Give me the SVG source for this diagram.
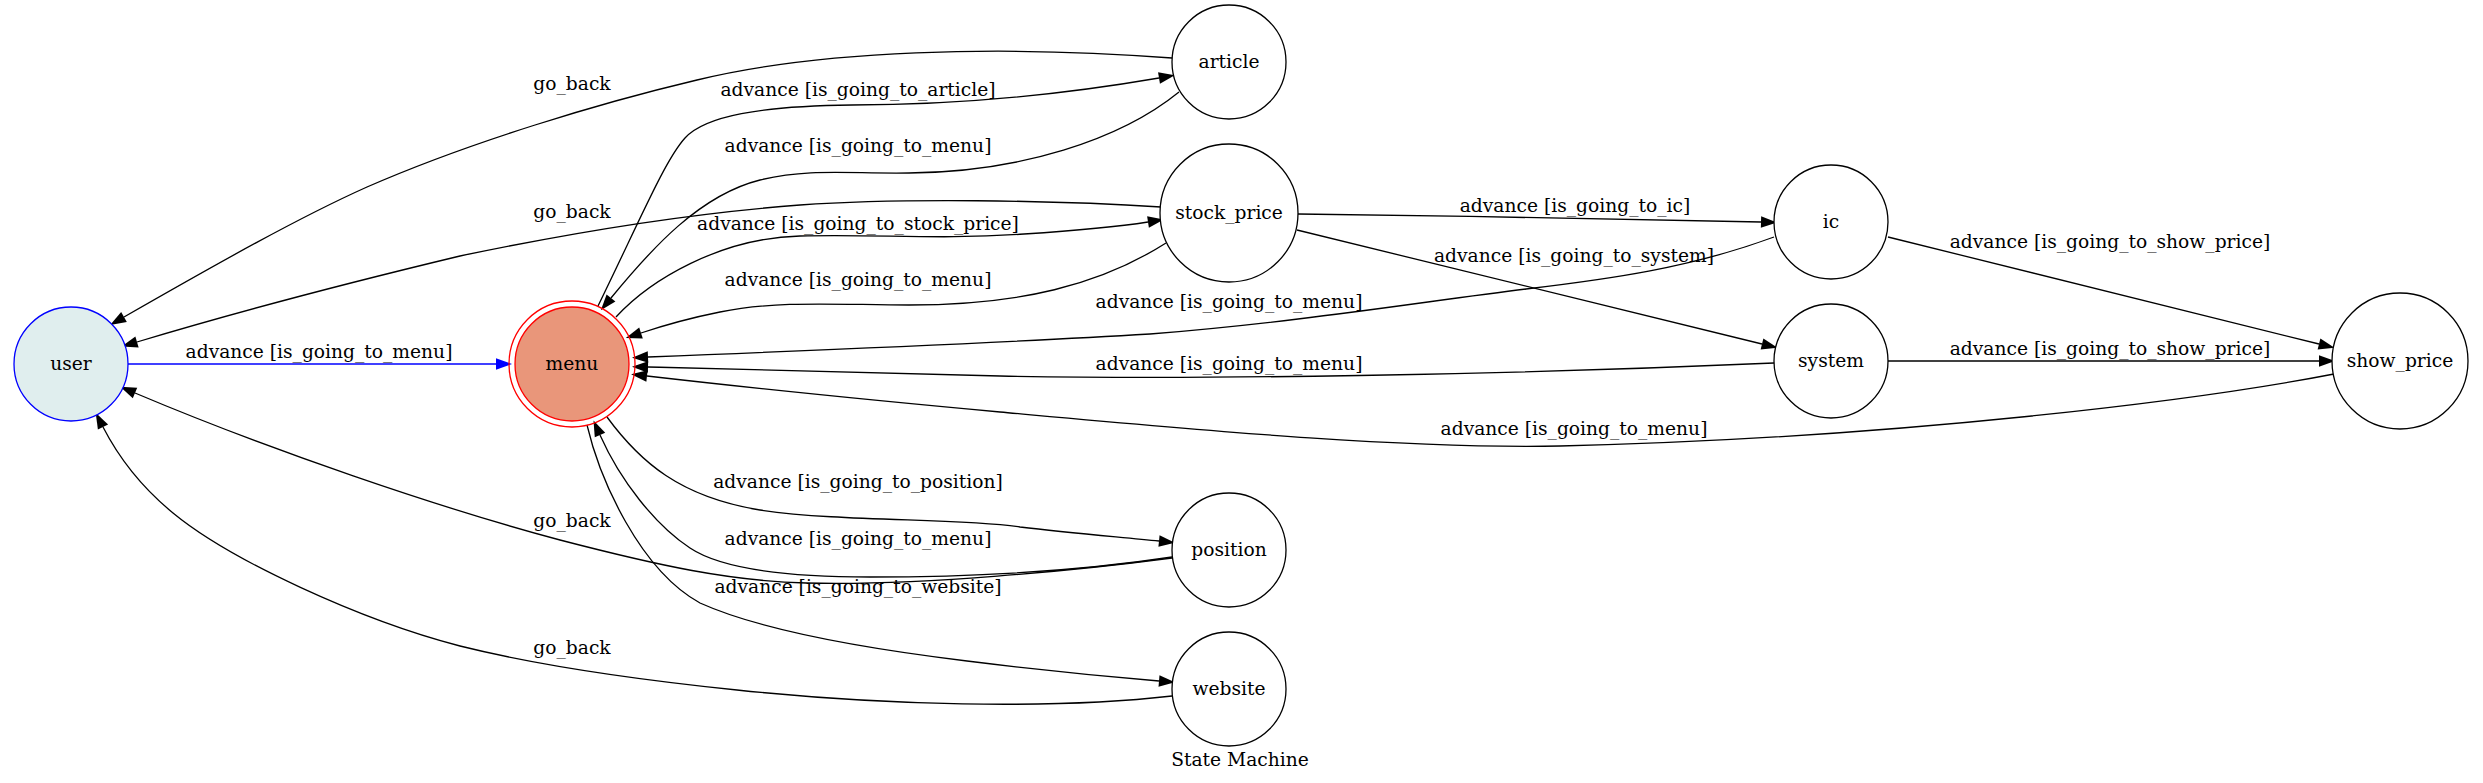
<svg xmlns="http://www.w3.org/2000/svg" width="2483" height="783" viewBox="0 0 2483 783">
<style>
text{font-family:"DejaVu Serif","Liberation Serif",serif;font-size:18.67px;fill:#000;text-anchor:middle}
.e{fill:none;stroke:#000;stroke-width:1.3;marker-end:url(#ah)}
.eb{fill:none;stroke:#0000ff;stroke-width:1.3;marker-end:url(#ahb)}
.n{fill:#fff;stroke:#000;stroke-width:1.3}
</style>
<defs>
<marker id="ah" markerUnits="userSpaceOnUse" markerWidth="16" markerHeight="12" viewBox="0 0 14 10" refX="0" refY="5" orient="auto" overflow="visible"><path d="M0,0 L14,5 L0,10 z" fill="#000"/></marker>
<marker id="ahb" markerUnits="userSpaceOnUse" markerWidth="16" markerHeight="12" viewBox="0 0 14 10" refX="0" refY="5" orient="auto" overflow="visible"><path d="M0,0 L14,5 L0,10 z" fill="#0000ff"/></marker>
</defs>
<rect width="2483" height="783" fill="#fff"/>
<g id="connectors">
<path class="eb" d="M128,364 L496,364"/>
<text x="319" y="358">advance [is_going_to_menu]</text>
<path class="e" d="M1172,58 C1000,45 820,50 697,80 C600,103 470,142 367,187 C300,217 220,262 124,317"/>
<text x="572" y="90">go_back</text>
<path class="e" d="M598,306 C640,220 665,160 685,138 C705,116 760,106 852,105 C960,105 1060,95 1159,78"/>
<text x="858" y="96">advance [is_going_to_article]</text>
<path class="e" d="M1179,92 C1120,140 1020,172 909,173 C850,174 810,168 760,180 C700,195 652,248 611,298"/>
<text x="858" y="152">advance [is_going_to_menu]</text>
<path class="e" d="M1161,207 C1050,200 900,198 800,205 C680,214 560,235 460,256 C360,280 250,308 137,342"/>
<text x="572" y="218">go_back</text>
<path class="e" d="M616,317 C650,280 720,238 800,236 C880,234 940,240 1024,234 C1070,231 1110,228 1148,222"/>
<text x="858" y="230">advance [is_going_to_stock_price]</text>
<path class="e" d="M1166,243 C1100,285 1020,305 909,305 C840,305 780,300 720,312 C690,318 665,325 641,333"/>
<text x="858" y="286">advance [is_going_to_menu]</text>
<path class="e" d="M1298,214 C1450,216 1650,219 1761,222"/>
<text x="1575" y="212">advance [is_going_to_ic]</text>
<path class="e" d="M1297,230 L1762,344"/>
<text x="1574" y="262">advance [is_going_to_system]</text>
<path class="e" d="M1774,237 C1690,268 1610,279 1526,289 C1420,302 1300,322 1150,334 C1000,343 800,351 648,357"/>
<text x="1229" y="308">advance [is_going_to_menu]</text>
<path class="e" d="M1774,363 C1500,375 1200,380 1000,376 C850,373 750,369 648,367"/>
<text x="1229" y="370">advance [is_going_to_menu]</text>
<path class="e" d="M2334,374 C2200,400 1900,438 1560,446 C1400,449 1200,430 1000,412 C880,401 760,389 647,376"/>
<text x="1574" y="435">advance [is_going_to_menu]</text>
<path class="e" d="M1888,237 L2319,344"/>
<text x="2110" y="248">advance [is_going_to_show_price]</text>
<path class="e" d="M1888,361 L2319,361"/>
<text x="2110" y="355">advance [is_going_to_show_price]</text>
<path class="e" d="M607,417 C640,462 680,497 760,510 C840,522 960,518 1020,527 C1070,533 1120,537 1159,541"/>
<text x="858" y="488">advance [is_going_to_position]</text>
<path class="e" d="M1172,557 C1100,568 1000,577 870,577 C780,577 720,568 690,548 C655,525 620,480 600,435"/>
<text x="858" y="545">advance [is_going_to_menu]</text>
<path class="e" d="M1172,558 C1080,570 920,586 806,583 C730,581 660,566 560,540 C440,508 270,450 135,393"/>
<text x="572" y="527">go_back</text>
<path class="e" d="M587,425 C600,480 640,570 700,603 C760,630 860,648 967,661 C1040,670 1100,676 1159,681"/>
<text x="858" y="593">advance [is_going_to_website]</text>
<path class="e" d="M1172,696 C1050,710 880,705 737,690 C640,680 540,666 460,646 C360,620 230,560 173,513 C145,490 120,460 103,427"/>
<text x="572" y="654">go_back</text>
</g>
<g id="user"><circle cx="71" cy="364" r="57" fill="#e0eeee" stroke="#0000ff" stroke-width="1.3"/><text x="71" y="370">user</text></g>
<g id="menu"><circle cx="572" cy="364" r="63" fill="none" stroke="#ff0000" stroke-width="1.3"/><circle cx="572" cy="364" r="57" fill="#e9967a" stroke="#ff0000" stroke-width="1.3"/><text x="572" y="370">menu</text></g>
<g id="article"><circle class="n" cx="1229" cy="62" r="57"/><text x="1229" y="68">article</text></g>
<g id="stock_price"><circle class="n" cx="1229" cy="213" r="69"/><text x="1229" y="219">stock_price</text></g>
<g id="position"><circle class="n" cx="1229" cy="550" r="57"/><text x="1229" y="556">position</text></g>
<g id="website"><circle class="n" cx="1229" cy="689" r="57"/><text x="1229" y="695">website</text></g>
<g id="ic"><circle class="n" cx="1831" cy="222" r="57"/><text x="1831" y="228">ic</text></g>
<g id="system"><circle class="n" cx="1831" cy="361" r="57"/><text x="1831" y="367">system</text></g>
<g id="show_price"><circle class="n" cx="2400" cy="361" r="68"/><text x="2400" y="367">show_price</text></g>
<text x="1240" y="766">State Machine</text>
</svg>
